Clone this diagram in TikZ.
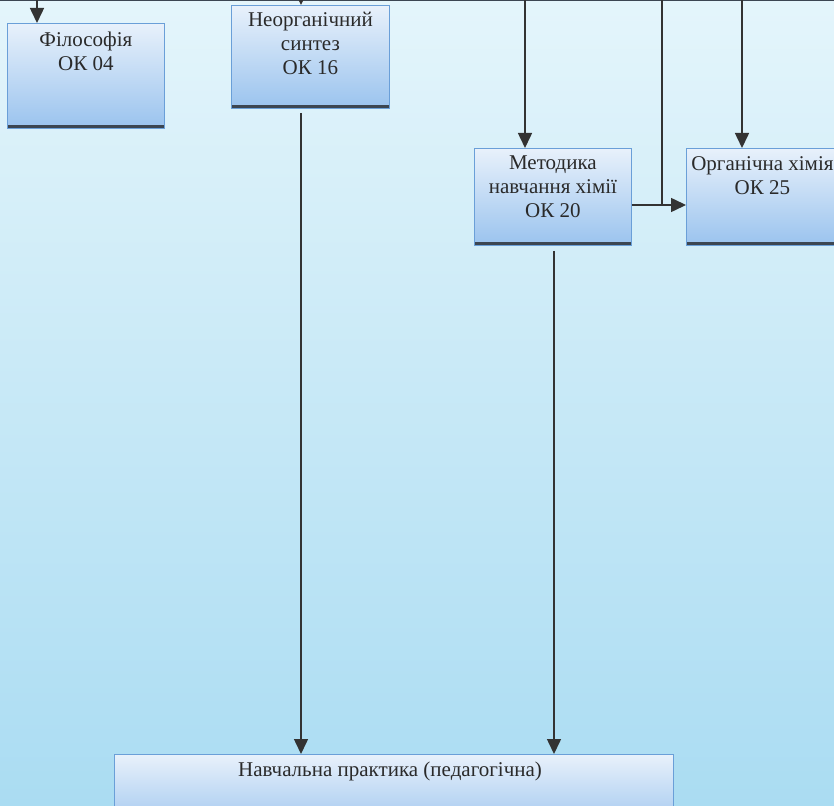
\documentclass[tikz,border=0pt]{standalone}
\usepackage{fontspec}
\setmainfont{Liberation Serif}
\usetikzlibrary{arrows.meta}
\definecolor{bgtop}{HTML}{E4F5FB}
\definecolor{bgbot}{HTML}{AADCF2}
\definecolor{boxtop}{HTML}{E8F1FB}
\definecolor{boxbot}{HTML}{9AC3EE}
\definecolor{boxline}{HTML}{6A9FD8}
\definecolor{shadowc}{HTML}{3C4652}
\definecolor{linec}{HTML}{333333}
\definecolor{txtc}{HTML}{2A2A2A}
\tikzset{
  box/.style={rectangle, draw=boxline, line width=0.8pt, top color=boxtop, bottom color=boxbot,
    inner sep=0pt, anchor=north west,
    path picture={\draw[line width=6pt, shadowc] (path picture bounding box.south west) -- (path picture bounding box.south east);}},
  lbl/.style={inner sep=0pt, anchor=north, align=center, text=txtc, font=\fontsize{21}{24}\selectfont},
  conn/.style={draw=linec, line width=1.5pt},
  arr/.style={conn, -{Triangle[width=14pt,length=15pt]}},
}
\begin{document}
\begin{tikzpicture}[x=1pt,y=-1pt]
\useasboundingbox (0,0) rectangle (834,805);
\shade[top color=bgtop, bottom color=bgbot] (0,0) rectangle (834,805);
% top edge line (bottom of a box above)
\coordinate (tl) at (0,0);
\coordinate (tr) at (834,0);
\draw[shadowc, line width=3pt] (tl) -- (tr);

% boxes
\node[box, minimum width=157pt, minimum height=105pt] (fil) at (7,23) {};
\node[box, minimum width=158pt, minimum height=103pt] (neo) at (231,5) {};
\node[box, minimum width=157pt, minimum height=97pt] (met) at (474,148) {};
\node[box, minimum width=156pt, minimum height=97pt] (org) at (686,148) {};
\node[box, minimum width=559pt, minimum height=80pt] (prak) at (114,754) {};

% labels
\node[lbl] (filt) at ([yshift=-9pt]fil.north) {Філософія\\ОК 04};
\node[lbl] (neot) at ([yshift=-7pt]neo.north) {Неорганічний\\синтез\\ОК 16};
\node[lbl] (mett) at ([yshift=-8pt]met.north) {Методика\\навчання хімії\\ОК 20};
\node[lbl] (orgt) at ([xshift=-2pt,yshift=-8pt]org.north) {Органічна хімія\\ОК 25};
\node[lbl] (prakt) at (390,762) {Навчальна практика (педагогічна)};

% connector coordinates
\coordinate (cf) at (37,-20);
\coordinate (cn) at (301,-20);
\coordinate (cm) at (525,-20);
\coordinate (cj) at (662,-20);
\coordinate (co) at (742,-20);
\coordinate (cnb) at (301,0);
\coordinate (cmb) at (554,0);
\coordinate (ch) at (0,205);

% connectors
\draw[arr] (cf) -- (cf |- fil.north);
\draw[arr] (cn) -- (cn |- neo.north);
\draw[arr] (cm) -- (cm |- met.north);
\draw[arr] (co) -- (co |- org.north);
\draw[conn] (cj) -- (cj |- ch);
\draw[arr] (met.east |- ch) -- (org.west |- ch);
\draw[arr, shorten <=4pt] (cnb |- neo.south) -- (cnb |- prak.north);
\draw[arr, shorten <=5pt] (cmb |- met.south) -- (cmb |- prak.north);
\end{tikzpicture}
\end{document}
